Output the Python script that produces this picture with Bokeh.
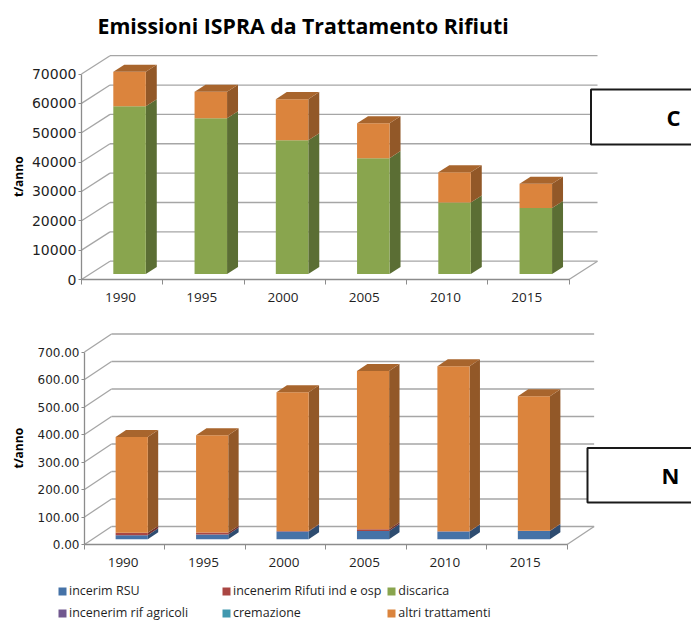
import math
from bokeh.plotting import figure
from bokeh.layouts import column
from bokeh.embed import file_html
from bokeh.resources import INLINE
from bokeh.models import (LinearAxis, FixedTicker, NumeralTickFormatter, BasicTickFormatter,
                          BoxAnnotation, Label, Legend, LegendItem, Title)

years = ["1990", "1995", "2000", "2005", "2010", "2015"]

# C (t/anno)
c_rsu = [0, 0, 0, 0, 0, 0]
c_ind = [0, 0, 0, 0, 0, 0]
c_disc = [57200, 53100, 45600, 39500, 24400, 22500]
c_agr = [0, 0, 0, 0, 0, 0]
c_crem = [0, 0, 0, 0, 0, 0]
c_altri = [11700, 9000, 14000, 11900, 10300, 8250]

# N (t/anno)
n_rsu = [14.5, 17, 28, 30, 28, 30]
n_ind = [8.5, 7, 2, 6, 1, 1]
n_disc = [0, 0, 0, 0, 0, 0]
n_agr = [0, 0, 0, 0, 0, 0]
n_crem = [0, 0, 0, 0, 0, 0]
n_altri = [349, 354, 504.5, 576, 600, 489]

names = ["incerim RSU", "incenerim Rifuti ind e osp", "discarica",
         "incenerim rif agricoli", "cremazione", "altri trattamenti"]
front = ["#4572A7", "#AA4643", "#89A54E", "#71588F", "#4198AF", "#DB843D"]
side = ["#2E4C70", "#722F2D", "#5B6E34", "#4B3B5F", "#2B6575", "#925828"]
top = ["#355780", "#843634", "#6A803C", "#58446F", "#327688", "#A8652D"]

c_ticks = [0, 10000, 20000, 30000, 40000, 50000, 60000, 70000]
n_ticks = [0, 100, 200, 300, 400, 500, 600, 700]

GRID = "#A6A6A6"
AXIS = "#8C8C8C"
TXT = "#1F1F1F"


def chart(series, ticks, fmt, y_start, y_end, frame_top, floor_px, left_px, pitch, vmax_px, dx_px, dy_px, tick_font):
    """Oblique 3D stacked columns. Pixel arguments only fix the projection."""
    vmax = ticks[-1]
    upp = vmax / vmax_px
    dx = dx_px / pitch
    dy = dy_px * upp
    p = figure(width=691, height=y_end - y_start, output_backend="svg", toolbar_location=None,
               x_range=(-left_px / pitch, (691 - left_px) / pitch),
               y_range=((floor_px - y_end) * upp, (floor_px - frame_top) * upp),
               min_border_left=0, min_border_right=0, min_border_top=frame_top - y_start, min_border_bottom=0,
               x_axis_type=None, y_axis_type=None, outline_line_color=None,
               background_fill_color=None, border_fill_color=None)

    n = len(years)
    # walls and floor grid
    p.segment(x0=[0] * len(ticks), y0=ticks, x1=[dx] * len(ticks), y1=[t + dy for t in ticks],
              line_color=GRID, line_width=1.3)
    p.segment(x0=[dx] * len(ticks), y0=[t + dy for t in ticks], x1=[n + dx] * len(ticks),
              y1=[t + dy for t in ticks], line_color=GRID, line_width=1.3)
    p.segment(x0=[n], y0=[0], x1=[n + dx], y1=[dy], line_color=GRID, line_width=1.3)

    # stacked columns
    d0, d1 = 0.295, 0.68
    w = 0.2
    shift = -0.012
    base = [0.0] * n
    renderers = []
    for k, vals in enumerate(series):
        bottoms = list(base)
        tops = [b + v for b, v in zip(bottoms, vals)]
        base = tops
        lefts = [i + 0.5 + shift - w + d0 * dx for i in range(n)]
        rights = [i + 0.5 + shift + w + d0 * dx for i in range(n)]
        yb = [b + d0 * dy for b in bottoms]
        yt = [t + d0 * dy for t in tops]
        off_x = (d1 - d0) * dx
        off_y = (d1 - d0) * dy
        p.patches(xs=[[r, r + off_x, r + off_x, r] for r in rights],
                  ys=[[b, b + off_y, t + off_y, t] for b, t in zip(yb, yt)],
                  fill_color=side[k], line_color=None)
        renderers.append(p.quad(left=lefts, right=rights, bottom=yb, top=yt,
                                fill_color=front[k], line_color=None))
    # caps on top of the stack
    last = max(k for k, vals in enumerate(series) if any(vals))
    xs = []
    ys = []
    for i in range(n):
        l = i + 0.5 + shift - w + d0 * dx
        r = i + 0.5 + shift + w + d0 * dx
        t = base[i] + d0 * dy
        ox = (d1 - d0) * dx
        oy = (d1 - d0) * dy
        xs.append([l, r, r + ox, l + ox])
        ys.append([t, t, t + oy, t + oy])
    p.patches(xs=xs, ys=ys, fill_color=top[last], line_color=None)

    # axes
    label_at = [i + 0.48 for i in range(n)]
    ax = LinearAxis(ticker=FixedTicker(ticks=label_at, minor_ticks=list(range(n + 1))),
                    major_label_overrides={a: y for a, y in zip(label_at, years)},
                    bounds=(0, n), fixed_location=0, axis_line_color=AXIS, axis_line_width=1.3,
                    major_tick_line_color=None, major_tick_out=0, major_tick_in=0,
                    minor_tick_line_color=AXIS, minor_tick_out=5, minor_tick_in=0,
                    major_label_text_font="Open Sans", major_label_text_font_size="13.5px",
                    major_label_text_color=TXT, major_label_standoff=8)
    p.add_layout(ax, "below")
    ay = LinearAxis(ticker=FixedTicker(ticks=ticks), formatter=fmt, bounds=(0, vmax), fixed_location=0,
                    axis_line_color=AXIS, axis_line_width=1.3,
                    major_tick_line_color=AXIS, major_tick_out=3, major_tick_in=0,
                    minor_tick_line_color=None,
                    major_label_text_font="DejaVu Sans", major_label_text_font_size=tick_font,
                    major_label_text_color=TXT, major_label_standoff=2)
    p.add_layout(ay, "left")
    # axis title, centred on the value axis
    p.add_layout(Label(x=(18 - left_px) / pitch, y=vmax / 2, text="t/anno", angle=math.pi / 2,
                       text_font="Open Sans", text_font_size="12px", text_font_style="bold",
                       text_color="#000000", text_align="center", text_baseline="middle"))
    return p, renderers, upp, pitch


def tag(p, letter, left_ref, right_ref, top_ref, bottom_ref, left_px, floor_px, upp, pitch, letter_x):
    p.add_layout(BoxAnnotation(left=(left_ref - left_px) / pitch, right=(right_ref - left_px) / pitch,
                               bottom=(floor_px - bottom_ref) * upp, top=(floor_px - top_ref) * upp,
                               fill_color="white", fill_alpha=1, line_color="#1A1A1A", line_alpha=1,
                               line_width=2, level="annotation"))
    p.add_layout(Label(x=(letter_x - left_px) / pitch, y=(floor_px - (top_ref + bottom_ref) / 2) * upp,
                       text=letter, text_font="Open Sans", text_font_style="bold", text_font_size="22px",
                       text_color="#000000", text_align="center", text_baseline="middle", level="annotation"))


c_series = [c_rsu, c_ind, c_disc, c_agr, c_crem, c_altri]
n_series = [n_rsu, n_ind, n_disc, n_agr, n_crem, n_altri]

p1, _, upp1, pitch1 = chart(c_series, c_ticks, BasicTickFormatter(use_scientific=False), 0, 315, 40, 279, 81, 81.25,
                            205.5, 28.5, 18.3, "14px")
p1.add_layout(Title(text="Emissioni ISPRA da Trattamento Rifiuti", text_font="Open Sans", text_font_style="bold",
                    text_font_size="21.3px", text_color="#000000", align="left", offset=97, standoff=2), "above")
tag(p1, "C", 590.5, 720, 89, 144, 81, 279, upp1, pitch1, 673)

p2, rs, upp2, pitch2 = chart(n_series, n_ticks, NumeralTickFormatter(format="0.00"), 315, 621, 315, 544, 84, 80.44,
                             192.5, 27, 18, "12px")
tag(p2, "N", 587, 720, 447.5, 502, 84, 544, upp2, pitch2, 670)

legend = Legend(items=[LegendItem(label=nm, renderers=[r]) for nm, r in zip(names, rs)],
                orientation="horizontal", nrows=2, location=(57, 0),
                glyph_width=10, glyph_height=10, label_standoff=2, label_width=147, label_height=17,
                spacing=5, padding=0, margin=0, border_line_color=None, background_fill_color=None,
                background_fill_alpha=0, label_text_font="Open Sans", label_text_font_size="12.5px",
                label_text_color=TXT)
p2.add_layout(legend, "center")

page = column(p1, p2, spacing=0)
open("out.html", "w").write(file_html(page, INLINE))
